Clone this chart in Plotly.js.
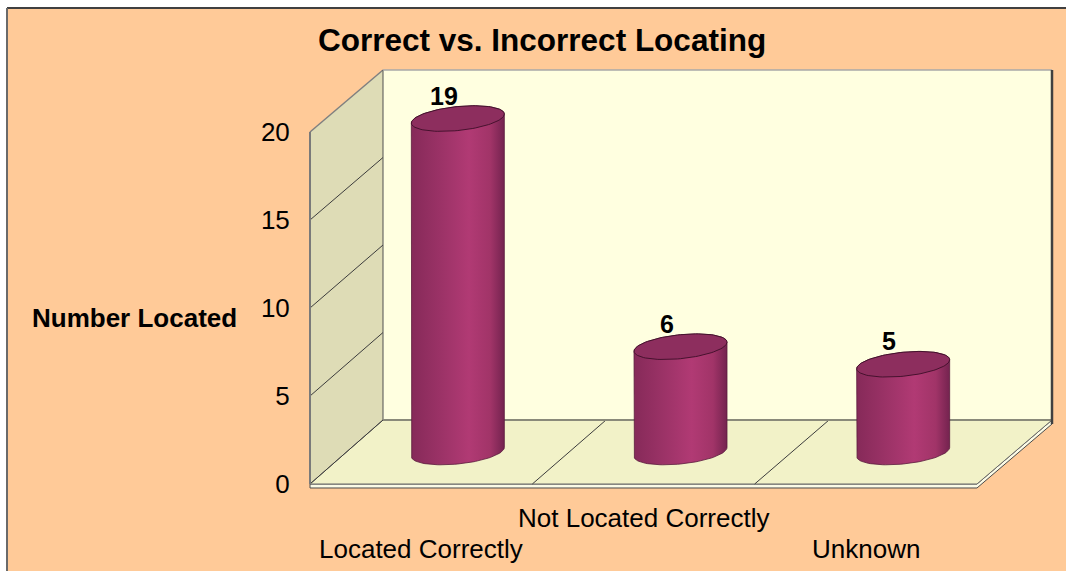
<!DOCTYPE html>
<html>
<head>
<meta charset="utf-8">
<script src="https://cdn.plot.ly/plotly-3.0.1.min.js"></script>
<style>html,body{margin:0;padding:0;background:#fff;overflow:hidden;}#chart{width:1066px;height:571px;}</style>
</head>
<body>
<div id="chart"></div>
<script>
// ---- data ----
const categories = ['Located Correctly', 'Not Located Correctly', 'Unknown'];
const values = [19, 6, 5];
const yTicks = [0, 5, 10, 15, 20];
const title = 'Correct vs. Incorrect Locating';
const yTitle = 'Number Located';

// ---- geometry of the pseudo-3D box (pixels) ----
const W = 1066, H = 571;
const px = x => x / W;
const py = y => 1 - y / H;
const FRONT = {x0: 310, x1: 977, y0: 484, k: 17.6};
const BACK  = {x0: 383, x1: 1052, y0: 420, k: 17.5};
const MID   = {x0: 346.5, x1: 1014.5, y0: 452, k: 17.55};
const catRange = [-0.5, categories.length - 0.5];
const catX = (p, c) => p.x0 + (c - catRange[0]) / (catRange[1] - catRange[0]) * (p.x1 - p.x0);
const valY = (p, v) => p.y0 - v * p.k;
const ydom = (p, r) => [py(valY(p, r[0])), py(valY(p, r[1]))];
const xdom = p => [px(p.x0), px(p.x1)];
const vmax = yTicks[yTicks.length - 1];

const FONT = 'Liberation Sans, Arial, sans-serif';

// ---- cylinders (in mid-depth data coordinates) ----
const A = 46.5 / ((MID.x1 - MID.x0) / 3); // half width in category units
const B = 12 / MID.k;                      // ellipse vertical radius in value units
const S = 4.5 / MID.k;                     // tilt of ellipse
const N = 48;
function ell(c, v, t) { return [c + A * Math.cos(t), v - B * Math.sin(t) + S * Math.cos(t)]; }

const traces = [];
const bodyScale = [[0, '#862a59'], [0.3, '#9a3266'], [0.62, '#b13a74'], [0.85, '#a13468'], [1, '#74234f']];
categories.forEach((cat, i) => {
  const v = values[i];
  const bx = [], by = [];
  let p = ell(i, v, Math.PI); bx.push(p[0]); by.push(p[1]);
  for (let j = 0; j <= N; j++) { const t = Math.PI - j * Math.PI / N; p = ell(i, 0, t); bx.push(p[0]); by.push(p[1]); }
  for (let j = 0; j <= N; j++) { const t = -j * Math.PI / N; p = ell(i, v, t); bx.push(p[0]); by.push(p[1]); }
  traces.push({
    type: 'scatter', mode: 'lines', x: bx, y: by, xaxis: 'x3', yaxis: 'y3',
    fill: 'toself', fillcolor: '#a03468',
    fillgradient: {type: 'horizontal', colorscale: bodyScale},
    line: {color: '#5a1a3c', width: 0.8}, hoverinfo: 'skip', showlegend: false
  });
  const tx = [], ty = [];
  for (let j = 0; j <= 2 * N; j++) { const t = j * Math.PI / N; p = ell(i, v, t); tx.push(p[0]); ty.push(p[1]); }
  traces.push({
    type: 'scatter', mode: 'lines', x: tx, y: ty, xaxis: 'x3', yaxis: 'y3',
    fill: 'toself', fillcolor: '#8d2e5e',
    line: {color: '#3d0f28', width: 0.9}, hoverinfo: 'skip', showlegend: false
  });
});

// ---- box shapes ----
const P = (x, y) => px(x).toFixed(5) + ' ' + py(y).toFixed(5);
const shapes = [];
const base = {xref: 'paper', yref: 'paper', layer: 'below'};
// chart area
shapes.push(Object.assign({}, base, {type: 'rect', x0: px(7), y0: py(8), x1: 1.03, y1: -0.03,
  fillcolor: '#FFCA98', line: {width: 0}}));
shapes.push(Object.assign({}, base, {type: 'line', x0: px(7), y0: py(8), x1: 1.03, y1: py(8), line: {color: '#404040', width: 2}}));
shapes.push(Object.assign({}, base, {type: 'line', x0: px(7), y0: py(8), x1: px(7), y1: -0.03, line: {color: '#6a6a6a', width: 2}}));
// back wall
shapes.push(Object.assign({}, base, {type: 'rect', x0: px(BACK.x0), x1: px(BACK.x1), y0: py(valY(BACK, 0)), y1: py(valY(BACK, vmax)),
  fillcolor: '#FFFFE0', line: {width: 0}}));
// left wall
shapes.push(Object.assign({}, base, {type: 'path',
  path: 'M ' + P(FRONT.x0, valY(FRONT, vmax)) + ' L ' + P(BACK.x0, valY(BACK, vmax)) + ' L ' + P(BACK.x0, valY(BACK, 0)) + ' L ' + P(FRONT.x0, valY(FRONT, 0)) + ' Z',
  fillcolor: '#DEDCB6', line: {width: 0}}));
// floor slab
shapes.push(Object.assign({}, base, {type: 'path',
  path: 'M ' + P(FRONT.x0, FRONT.y0) + ' L ' + P(FRONT.x1, FRONT.y0) + ' L ' + P(BACK.x1, BACK.y0) + ' L ' + P(BACK.x1, BACK.y0 + 4) + ' L ' + P(FRONT.x1, FRONT.y0 + 4) + ' L ' + P(FRONT.x0, FRONT.y0 + 4) + ' Z',
  fillcolor: '#FBFBE6', line: {color: '#4a4a4a', width: 1}}));
// floor top
shapes.push(Object.assign({}, base, {type: 'path',
  path: 'M ' + P(FRONT.x0, FRONT.y0) + ' L ' + P(BACK.x0, BACK.y0) + ' L ' + P(BACK.x1, BACK.y0) + ' L ' + P(FRONT.x1, FRONT.y0) + ' Z',
  fillcolor: '#F2F2C8', line: {color: '#6a6a6a', width: 1}}));
// left-wall grid lines
yTicks.forEach(v => {
  shapes.push(Object.assign({}, base, {type: 'line', x0: px(FRONT.x0), y0: py(valY(FRONT, v)), x1: px(BACK.x0), y1: py(valY(BACK, v)),
    line: {color: v === vmax ? '#808080' : '#3c3c3c', width: v === vmax ? 1.5 : 1}}));
});
// floor dividers
for (let c = 0; c < categories.length - 1; c++) {
  shapes.push(Object.assign({}, base, {type: 'line', x0: px(catX(FRONT, c + 0.5)), y0: py(FRONT.y0), x1: px(catX(BACK, c + 0.5)), y1: py(BACK.y0),
    line: {color: '#3c3c3c', width: 1}}));
}
// edges
shapes.push(Object.assign({}, base, {type: 'line', x0: px(FRONT.x0), y0: py(valY(FRONT, 0)), x1: px(FRONT.x0), y1: py(valY(FRONT, vmax)), line: {color: '#7a7a7a', width: 2}}));
shapes.push(Object.assign({}, base, {type: 'line', x0: px(BACK.x0), y0: py(valY(BACK, 0)), x1: px(BACK.x0), y1: py(valY(BACK, vmax)), line: {color: '#505050', width: 1}}));
shapes.push(Object.assign({}, base, {type: 'line', x0: px(BACK.x0), y0: py(valY(BACK, vmax)), x1: px(BACK.x1), y1: py(valY(BACK, vmax)), line: {color: '#a8a8a8', width: 1.5}}));
shapes.push(Object.assign({}, base, {type: 'line', x0: px(BACK.x0), y0: py(BACK.y0), x1: px(BACK.x1), y1: py(BACK.y0), line: {color: '#8a8a7a', width: 2}}));
shapes.push(Object.assign({}, base, {type: 'line', x0: px(BACK.x1), y0: py(BACK.y0 + 4), x1: px(BACK.x1), y1: py(valY(BACK, vmax)), line: {color: '#404040', width: 2.5}}));

// ---- annotations ----
const annotations = [];
annotations.push({xref: 'paper', yref: 'paper', x: px(542), y: py(40), text: '<b>' + title + '</b>', showarrow: false,
  xanchor: 'center', yanchor: 'middle', font: {family: FONT, size: 31.5, color: '#000'}});
annotations.push({xref: 'paper', yref: 'paper', x: px(134), y: py(318), text: '<b>' + yTitle + '</b>', showarrow: false,
  xanchor: 'center', yanchor: 'middle', font: {family: FONT, size: 26, color: '#000'}});
categories.forEach((cat, i) => {
  annotations.push({xref: 'x2', yref: 'paper', x: i, y: py(i % 2 === 1 ? 518 : 549), text: cat, showarrow: false,
    xanchor: 'center', yanchor: 'middle', font: {family: FONT, size: 26, color: '#000'}});
  annotations.push({xref: 'x3', yref: 'y3', x: i, y: values[i], text: '<b>' + values[i] + '</b>', showarrow: false,
    xanchor: 'center', yanchor: 'middle', xshift: -14, yshift: 23, font: {family: FONT, size: 25, color: '#000'}});
});

const layout = {
  width: W, height: H,
  margin: {l: 0, r: 0, t: 0, b: 0},
  paper_bgcolor: '#ffffff', plot_bgcolor: 'rgba(0,0,0,0)',
  showlegend: false,
  font: {family: FONT, color: '#000'},
  xaxis: {domain: xdom(BACK), range: catRange, tickvals: [0.5, 1.5], showgrid: true, gridcolor: '#8c8c8c', gridwidth: 1,
    showticklabels: false, ticks: '', zeroline: false, showline: false, fixedrange: true},
  yaxis: {domain: ydom(BACK, [0, vmax]), range: [0, vmax], tickvals: yTicks.slice(1, -1), showgrid: true, gridcolor: '#8c8c8c', gridwidth: 1,
    showticklabels: false, ticks: '', zeroline: false, showline: false, fixedrange: true},
  xaxis2: {domain: xdom(FRONT), range: catRange, visible: false, anchor: 'y2', fixedrange: true},
  yaxis2: {domain: ydom(FRONT, [0, vmax]), range: [0, vmax], anchor: 'x2', tickvals: yTicks, ticktext: yTicks.map(String),
    ticks: 'outside', ticklen: 14, tickcolor: 'rgba(0,0,0,0)', showgrid: false, zeroline: false, showline: false,
    tickfont: {family: FONT, size: 26, color: '#000'}, fixedrange: true},
  xaxis3: {domain: xdom(MID), range: catRange, visible: false, anchor: 'y3', fixedrange: true},
  yaxis3: {domain: ydom(MID, [-1, 21]), range: [-1, 21], visible: false, anchor: 'x3', fixedrange: true},
  shapes: shapes,
  annotations: annotations
};

Plotly.newPlot('chart', traces, layout, {displayModeBar: false, staticPlot: true});
</script>
</body>
</html>
